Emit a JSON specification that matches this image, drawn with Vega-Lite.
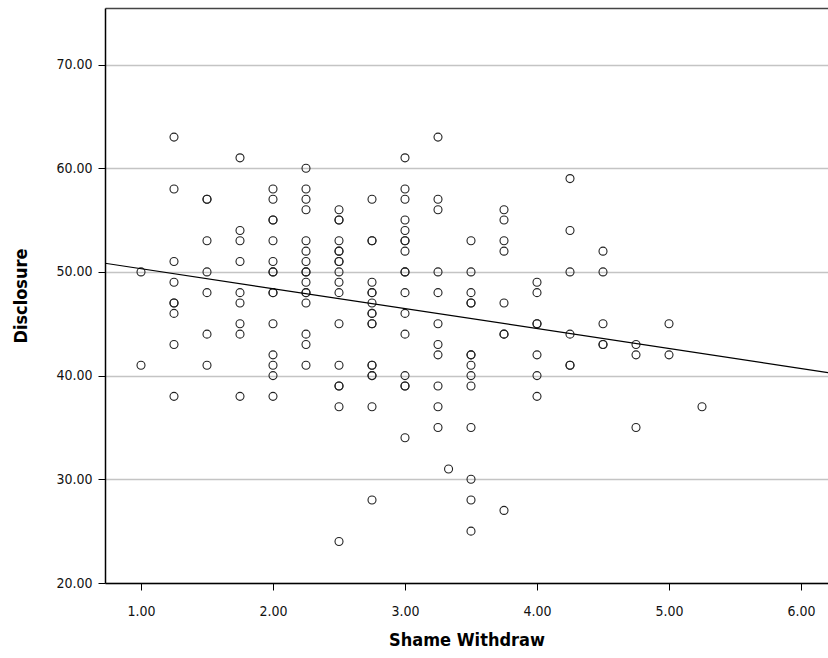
{
  "$schema": "https://vega.github.io/schema/vega-lite/v6.json",
  "width": 723,
  "height": 575,
  "autosize": {"type": "none"},
  "padding": {"left": 105, "top": 8, "right": 0, "bottom": 75},
  "background": "white",
  "title": {
    "text": "Figure 1. Scatterplot of Shame Withdraw and Disclosure",
    "anchor": "start",
    "frame": "group",
    "orient": "top",
    "baseline": "alphabetic",
    "offset": 4,
    "dx": -125,
    "dy": 12,
    "font": "Liberation Serif",
    "fontSize": 31,
    "fontWeight": "bold",
    "fontStyle": "italic",
    "color": "#000"
  },
  "config": {
    "view": {"stroke": null},
    "axis": {
      "labelFont": "DejaVu Sans Condensed",
      "labelFontSize": 14,
      "labelColor": "#111",
      "titleFont": "DejaVu Sans Condensed",
      "titleFontSize": 18,
      "titleFontWeight": "bold",
      "titleColor": "#000",
      "domainColor": "#000",
      "domainWidth": 1.5,
      "tickColor": "#000",
      "tickWidth": 1,
      "tickSize": 7
    }
  },
  "data": {
    "values": [
      {"sw": 1.0, "d": 50}, {"sw": 1.0, "d": 41},
      {"sw": 1.25, "d": 63}, {"sw": 1.25, "d": 58}, {"sw": 1.25, "d": 51}, {"sw": 1.25, "d": 49}, {"sw": 1.25, "d": 47}, {"sw": 1.25, "d": 47}, {"sw": 1.25, "d": 46}, {"sw": 1.25, "d": 43}, {"sw": 1.25, "d": 38},
      {"sw": 1.5, "d": 57}, {"sw": 1.5, "d": 57}, {"sw": 1.5, "d": 53}, {"sw": 1.5, "d": 50}, {"sw": 1.5, "d": 48}, {"sw": 1.5, "d": 44}, {"sw": 1.5, "d": 41},
      {"sw": 1.75, "d": 61}, {"sw": 1.75, "d": 54}, {"sw": 1.75, "d": 53}, {"sw": 1.75, "d": 51}, {"sw": 1.75, "d": 48}, {"sw": 1.75, "d": 47}, {"sw": 1.75, "d": 45}, {"sw": 1.75, "d": 44}, {"sw": 1.75, "d": 38},
      {"sw": 2.0, "d": 58}, {"sw": 2.0, "d": 57}, {"sw": 2.0, "d": 55}, {"sw": 2.0, "d": 55}, {"sw": 2.0, "d": 53}, {"sw": 2.0, "d": 51}, {"sw": 2.0, "d": 50}, {"sw": 2.0, "d": 50}, {"sw": 2.0, "d": 48}, {"sw": 2.0, "d": 48}, {"sw": 2.0, "d": 45}, {"sw": 2.0, "d": 42}, {"sw": 2.0, "d": 41}, {"sw": 2.0, "d": 40}, {"sw": 2.0, "d": 38},
      {"sw": 2.25, "d": 60}, {"sw": 2.25, "d": 58}, {"sw": 2.25, "d": 57}, {"sw": 2.25, "d": 56}, {"sw": 2.25, "d": 53}, {"sw": 2.25, "d": 52}, {"sw": 2.25, "d": 51}, {"sw": 2.25, "d": 50}, {"sw": 2.25, "d": 50}, {"sw": 2.25, "d": 49}, {"sw": 2.25, "d": 48}, {"sw": 2.25, "d": 48}, {"sw": 2.25, "d": 47}, {"sw": 2.25, "d": 44}, {"sw": 2.25, "d": 43}, {"sw": 2.25, "d": 41},
      {"sw": 2.5, "d": 56}, {"sw": 2.5, "d": 55}, {"sw": 2.5, "d": 55}, {"sw": 2.5, "d": 53}, {"sw": 2.5, "d": 52}, {"sw": 2.5, "d": 52}, {"sw": 2.5, "d": 51}, {"sw": 2.5, "d": 51}, {"sw": 2.5, "d": 50}, {"sw": 2.5, "d": 49}, {"sw": 2.5, "d": 48}, {"sw": 2.5, "d": 45}, {"sw": 2.5, "d": 41}, {"sw": 2.5, "d": 39}, {"sw": 2.5, "d": 39}, {"sw": 2.5, "d": 37}, {"sw": 2.5, "d": 24},
      {"sw": 2.75, "d": 57}, {"sw": 2.75, "d": 53}, {"sw": 2.75, "d": 53}, {"sw": 2.75, "d": 49}, {"sw": 2.75, "d": 48}, {"sw": 2.75, "d": 48}, {"sw": 2.75, "d": 47}, {"sw": 2.75, "d": 46}, {"sw": 2.75, "d": 46}, {"sw": 2.75, "d": 45}, {"sw": 2.75, "d": 45}, {"sw": 2.75, "d": 41}, {"sw": 2.75, "d": 41}, {"sw": 2.75, "d": 40}, {"sw": 2.75, "d": 40}, {"sw": 2.75, "d": 37}, {"sw": 2.75, "d": 28},
      {"sw": 3.0, "d": 61}, {"sw": 3.0, "d": 58}, {"sw": 3.0, "d": 57}, {"sw": 3.0, "d": 55}, {"sw": 3.0, "d": 54}, {"sw": 3.0, "d": 53}, {"sw": 3.0, "d": 53}, {"sw": 3.0, "d": 52}, {"sw": 3.0, "d": 50}, {"sw": 3.0, "d": 50}, {"sw": 3.0, "d": 48}, {"sw": 3.0, "d": 46}, {"sw": 3.0, "d": 44}, {"sw": 3.0, "d": 40}, {"sw": 3.0, "d": 39}, {"sw": 3.0, "d": 39}, {"sw": 3.0, "d": 34},
      {"sw": 3.25, "d": 63}, {"sw": 3.25, "d": 57}, {"sw": 3.25, "d": 56}, {"sw": 3.25, "d": 50}, {"sw": 3.25, "d": 48}, {"sw": 3.25, "d": 45}, {"sw": 3.25, "d": 43}, {"sw": 3.25, "d": 42}, {"sw": 3.25, "d": 39}, {"sw": 3.25, "d": 37}, {"sw": 3.25, "d": 35},
      {"sw": 3.33, "d": 31},
      {"sw": 3.5, "d": 53}, {"sw": 3.5, "d": 50}, {"sw": 3.5, "d": 48}, {"sw": 3.5, "d": 47}, {"sw": 3.5, "d": 47}, {"sw": 3.5, "d": 42}, {"sw": 3.5, "d": 42}, {"sw": 3.5, "d": 41}, {"sw": 3.5, "d": 40}, {"sw": 3.5, "d": 39}, {"sw": 3.5, "d": 35}, {"sw": 3.5, "d": 30}, {"sw": 3.5, "d": 28}, {"sw": 3.5, "d": 25},
      {"sw": 3.75, "d": 56}, {"sw": 3.75, "d": 55}, {"sw": 3.75, "d": 53}, {"sw": 3.75, "d": 52}, {"sw": 3.75, "d": 47}, {"sw": 3.75, "d": 44}, {"sw": 3.75, "d": 44}, {"sw": 3.75, "d": 27},
      {"sw": 4.0, "d": 49}, {"sw": 4.0, "d": 48}, {"sw": 4.0, "d": 45}, {"sw": 4.0, "d": 45}, {"sw": 4.0, "d": 42}, {"sw": 4.0, "d": 40}, {"sw": 4.0, "d": 38},
      {"sw": 4.25, "d": 59}, {"sw": 4.25, "d": 54}, {"sw": 4.25, "d": 50}, {"sw": 4.25, "d": 44}, {"sw": 4.25, "d": 41}, {"sw": 4.25, "d": 41},
      {"sw": 4.5, "d": 52}, {"sw": 4.5, "d": 50}, {"sw": 4.5, "d": 45}, {"sw": 4.5, "d": 43}, {"sw": 4.5, "d": 43},
      {"sw": 4.75, "d": 43}, {"sw": 4.75, "d": 42}, {"sw": 4.75, "d": 35},
      {"sw": 5.0, "d": 45}, {"sw": 5.0, "d": 42},
      {"sw": 5.25, "d": 37}
    ]
  },
  "layer": [
    {
      "mark": {"type": "point", "shape": "circle", "filled": false, "size": 64, "stroke": "#222", "strokeWidth": 1.1, "opacity": 1, "clip": true},
      "encoding": {
        "x": {
          "field": "sw", "type": "quantitative",
          "scale": {"domain": [0.7273, 6.2045], "nice": false, "zero": false},
          "axis": {"values": [1, 2, 3, 4, 5, 6], "format": ".2f", "grid": false, "title": "Shame Withdraw", "labelPadding": 14, "titlePadding": 13}
        },
        "y": {
          "field": "d", "type": "quantitative",
          "scale": {"domain": [20, 75.45], "nice": false, "zero": false},
          "axis": {"values": [20, 30, 40, 50, 60, 70], "format": ".2f", "grid": true, "gridColor": "#c4c4c4", "gridWidth": 1.5, "title": "Disclosure", "labelPadding": 6, "titlePadding": 25}
        }
      }
    },
    {
      "transform": [{"regression": "d", "on": "sw", "extent": [0.7273, 6.2045]}],
      "mark": {"type": "line", "color": "#000", "strokeWidth": 1.2, "clip": true},
      "encoding": {
        "x": {"field": "sw", "type": "quantitative", "axis": {"orient": "top", "labels": false, "ticks": false, "grid": false, "title": null, "domainColor": "#444", "domainWidth": 1.5}},
        "y": {"field": "d", "type": "quantitative"}
      }
    }
  ],
  "resolve": {"axis": {"x": "independent"}}
}
